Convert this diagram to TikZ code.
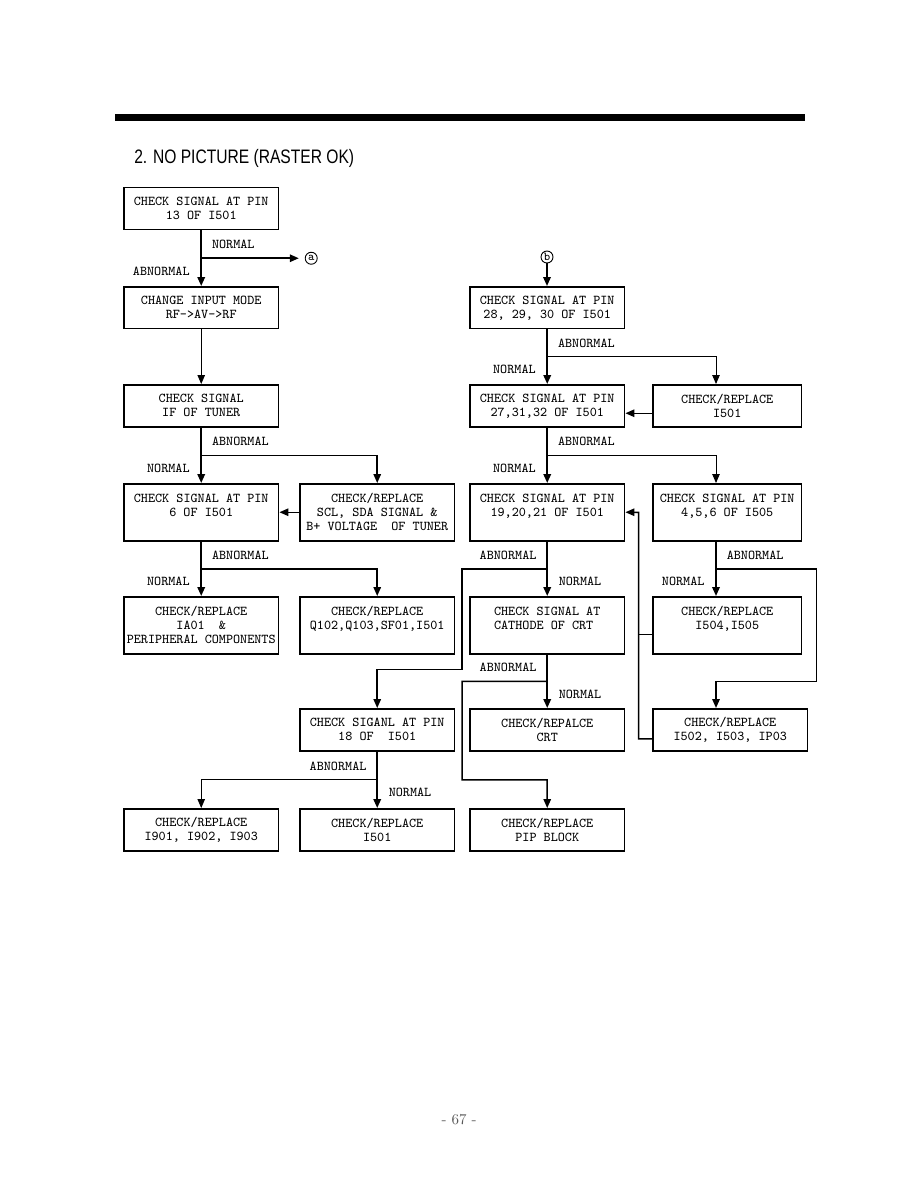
\documentclass[tikz,border=0pt]{standalone}
\usepackage{graphicx}
\usepackage{fontspec}
\newfontfamily\titlefont{Liberation Sans}
\usetikzlibrary{arrows.meta,calc}

\begin{document}
\begin{tikzpicture}[
    x=0.6667pt, y=0.6667pt,
    font=\ttfamily\fontsize{9}{9.33}\selectfont,
    box/.style={draw, line width=1pt, align=center, anchor=north west,
                minimum width=103.3pt, minimum height=28pt, inner sep=1.5pt},
    tall/.style={box, minimum height=38pt},
    narrow/.style={minimum width=99.3pt},
    circ/.style={draw, circle, line width=0.6pt, inner sep=0pt, minimum size=8pt,
                 font=\ttfamily\fontsize{8}{8}\selectfont},
    arr/.style={-{Triangle[length=6pt,width=5pt]}},
    trunk/.style={line width=1.2pt},
    link/.style={line width=1pt},
    thinlink/.style={line width=0.6pt},
    lblar/.style={inner sep=1pt, anchor=south west, xshift=6pt, yshift=5pt},
    lblal/.style={inner sep=1pt, anchor=south east, xshift=-6pt, yshift=5pt},
    lblbl/.style={inner sep=1pt, anchor=north east, xshift=-6.5pt, yshift=-4.5pt},
    lblbr/.style={inner sep=1pt, anchor=north west, xshift=6.5pt, yshift=-4.5pt}
  ]
  \useasboundingbox (0,0) rectangle (918,-1188);
  % header bar and title
  \fill (115,-114) rectangle (805,-121);
  \node[anchor=west, inner sep=0pt] (title) at (134,-158)
    {\titlefont\fontsize{13}{15}\selectfont\scalebox{0.8}[1]{2. NO PICTURE (RASTER OK)}};
  % left column
  \node[box]  (b1) at (123,-187) {CHECK SIGNAL AT PIN\\13 OF I501};
  \node[box]  (b2) at (123,-286) {CHANGE INPUT MODE\\RF->AV->RF};
  \node[box]  (b3) at (123,-384) {CHECK SIGNAL\\IF OF TUNER};
  \node[tall] (b4) at (123,-483) {CHECK SIGNAL AT PIN\\6 OF I501\\\mbox{}};
  \node[tall] (b5) at (123,-596) {CHECK/REPLACE\\IA01\ \ \&\\PERIPHERAL COMPONENTS};
  \node[box]  (b6) at (123,-808) {CHECK/REPLACE\\I901, I902, I903};
  % second column
  \node[tall] (c1) at (299,-483) {CHECK/REPLACE\\SCL, SDA SIGNAL \&\\B+ VOLTAGE\ \ OF TUNER};
  \node[tall] (c2) at (299,-596) {CHECK/REPLACE\\Q102,Q103,SF01,I501\\\mbox{}};
  \node[box]  (c3) at (299,-708) {CHECK SIGANL AT PIN\\18 OF\ \ I501};
  \node[box]  (c4) at (299,-808) {CHECK/REPLACE\\I501};
  % third column
  \node[box]  (d1) at (469,-286) {CHECK SIGNAL AT PIN\\28, 29, 30 OF I501};
  \node[box]  (d2) at (469,-384) {CHECK SIGNAL AT PIN\\27,31,32 OF I501};
  \node[tall] (d3) at (469,-483) {CHECK SIGNAL AT PIN\\19,20,21 OF I501\\\mbox{}};
  \node[tall, align=left] (d4) at (469,-596) {CHECK SIGNAL AT\\CATHODE OF CRT\\\mbox{}};
  \node[box]  (d5) at (469,-708) {CHECK/REPALCE\\CRT};
  \node[box]  (d6) at (469,-808) {CHECK/REPLACE\\PIP BLOCK};
  % right column
  \node[box, narrow]  (e1) at (652,-384) {CHECK/REPLACE\\I501};
  \node[tall, narrow] (e2) at (652,-483) {CHECK SIGNAL AT PIN\\4,5,6 OF I505\\\mbox{}};
  \node[tall, narrow] (e3) at (652,-596) {CHECK/REPLACE\\I504,I505\\\mbox{}};
  \node[box]          (e4) at (652,-708) {CHECK/REPLACE\\I502, I503, IP03};
  % page number
  \node[font=\rmfamily\fontsize{10}{12}\selectfont, text=black!65] (pg) at (459,-1120) {- 67 -};
  % branch points
  \coordinate (j1)  at ($(b1.south)!0.5!(b2.north)$);
  \coordinate (j3)  at ($(b3.south)!0.5!(b4.north)$);
  \coordinate (j4)  at ($(b4.south)!0.5!(b5.north)$);
  \coordinate (jd1) at ($(d1.south)!0.5!(d2.north)$);
  \coordinate (jd2) at ($(d2.south)!0.5!(d3.north)$);
  \coordinate (jd3) at ($(d3.south)!0.5!(d4.north)$);
  \coordinate (jd4) at ($(d4.south)!0.5!(d5.north)$);
  \coordinate (jd5) at ($(d5.south)!0.5!(d6.north)$);
  \coordinate (jc3) at ($(c3.south)!0.5!(c4.north)$);
  \coordinate (ex)  at (716,0);
  \coordinate (je2) at ($(ex |- e2.south)!0.5!(ex |- e3.north)$);
  \coordinate (je3) at ($(ex |- e3.south)!0.5!(ex |- e4.north)$);
  \coordinate (lx)  at ($(c2.east)!0.5!(d4.west)$);
  \coordinate (rt)  at ($(d3.east)!0.5!(e2.west)$);
  % connectors marks
  \node[circ] (ma) at ($(j1)+(110,0)$) {a};
  \node[circ] (mb) at (547,-257) {b};
  % left side
  \draw[trunk, arr] (b1) -- (b2);
  \draw[link, arr, shorten >=4pt] (j1) -- (ma);
  \draw[thinlink, arr] (b2) -- (b3);
  \draw[trunk, arr] (b3) -- (b4);
  \draw[link, arr] (j3) -| (c1);
  \draw[link, arr] (c1) -- (b4);
  \draw[trunk, arr] (b4) -- (b5);
  \draw[link, arr] (j4) -| (c2);
  \draw[trunk, arr] (c3) -- (c4);
  \draw[thinlink, arr] (jc3) -| (b6);
  % right side
  \draw[trunk, arr] (mb) -- (mb |- d1.north);
  \draw[trunk, arr] (d1) -- (d2);
  \draw[thinlink, arr] (jd1) -| (ex |- e1.north);
  \draw[link, arr] ([yshift=-5pt]e1.west) -- ([yshift=-5pt]d2.east);
  \draw[trunk, arr] (d2) -- (d3);
  \draw[thinlink, arr] (jd2) -| (ex |- e2.north);
  \draw[trunk, arr] (d3) -- (d4);
  \draw[link, arr] (jd3) -| ($(lx |- c2.south)+(0,-15)$) -| (c3);
  \draw[trunk, arr] (d4) -- (d5);
  \draw[link, arr] (jd4) -| (lx |- jd5) -- (jd5) -- (d6);
  \draw[trunk, arr] (ex |- e2.south) -- (ex |- e3.north);
  \draw[link, arr] (je2) -- ($(je2 -| e2.east)+(14,0)$) |- (je3) -- (ex |- e4.north);
  \draw[link, arr] ([yshift=-6pt]e4.west) -| (rt) -- (d3.east);
  \draw[link] ([yshift=-6pt]e3.west) -- ([yshift=-6pt]e3.west -| rt);
  % labels
  \node[lblar] (n1)  at (j1)  {NORMAL};
  \node[lblbl] (a1)  at (j1)  {ABNORMAL};
  \node[lblar] (a3)  at (j3)  {ABNORMAL};
  \node[lblbl] (n3)  at (j3)  {NORMAL};
  \node[lblar] (a4)  at (j4)  {ABNORMAL};
  \node[lblbl] (n4)  at (j4)  {NORMAL};
  \node[lblar] (ad1) at (jd1) {ABNORMAL};
  \node[lblbl] (nd1) at (jd1) {NORMAL};
  \node[lblar] (ad2) at (jd2) {ABNORMAL};
  \node[lblbl] (nd2) at (jd2) {NORMAL};
  \node[lblal] (ad3) at (jd3) {ABNORMAL};
  \node[lblbr] (nd3) at (jd3) {NORMAL};
  \node[lblal] (ad4) at (jd4) {ABNORMAL};
  \node[lblbr] (nd4) at (jd4) {NORMAL};
  \node[lblar] (ae2) at (je2) {ABNORMAL};
  \node[lblbl] (ne2) at (je2) {NORMAL};
  \node[lblal] (ac3) at (jc3) {ABNORMAL};
  \node[lblbr] (nc3) at (jc3) {NORMAL};
\end{tikzpicture}
\end{document}
